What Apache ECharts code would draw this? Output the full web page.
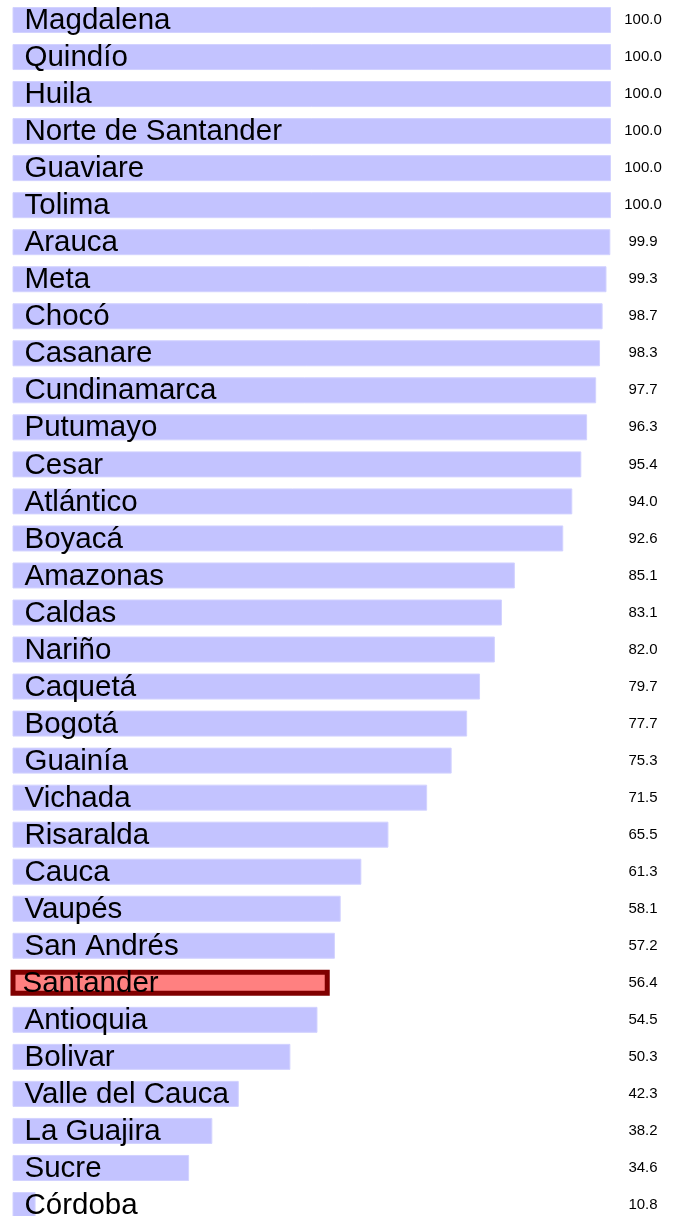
<!DOCTYPE html>
<html>
<head>
<meta charset="utf-8">
<script src="https://cdn.jsdelivr.net/npm/echarts@6/dist/echarts.min.js"></script>
<style>
html, body {margin: 0; padding: 0; background: #fff;}
#chart {width: 681px; height: 1216px;}
</style>
</head>
<body>
<div id="chart"></div>
<script>
const departments = [
    'Magdalena', 'Quindío', 'Huila', 'Norte de Santander', 'Guaviare', 'Tolima',
    'Arauca', 'Meta', 'Chocó', 'Casanare', 'Cundinamarca', 'Putumayo', 'Cesar',
    'Atlántico', 'Boyacá', 'Amazonas', 'Caldas', 'Nariño', 'Caquetá', 'Bogotá',
    'Guainía', 'Vichada', 'Risaralda', 'Cauca', 'Vaupés', 'San Andrés', 'Santander',
    'Antioquia', 'Bolivar', 'Valle del Cauca', 'La Guajira', 'Sucre', 'Córdoba'
]
const coverage = [
    100.0, 100.0, 100.0, 100.0, 100.0, 100.0,
    99.9, 99.3, 98.7, 98.3, 97.7, 96.3, 95.4,
    94.0, 92.6, 85.1, 83.1, 82.0, 79.7, 77.7,
    75.3, 71.5, 65.5, 61.3, 58.1, 57.2, 56.4,
    54.5, 50.3, 42.3, 38.2, 34.6, 10.8
]
const highlighted = 'Santander'

let myChart = echarts.init(document.getElementById('chart'), null, {renderer: 'canvas'})

let option = {
    animation: false,
    backgroundColor: '#fff',
    grid: {
        left: 13,
        right: 70,
        top: 1.5,
        bottom: -7.5,
        containLabel: false,
        outerBoundsMode: 'none',
    },
    xAxis: {
        type: 'value',
        min: 7.3,
        max: 100,
        show: false,
    },
    yAxis: [
        {
            type: 'category',
            data: departments,
            inverse: true,
            show: false,
        },
        {
            type: 'category',
            data: coverage.map((v) => v.toFixed(1)),
            inverse: true,
            position: 'right',
            axisLine: {show: false},
            axisTick: {show: false},
            axisLabel: {
                margin: 32,
                align: 'center',
                color: '#000',
                fontSize: 15,
                fontFamily: 'Liberation Sans',
            },
        },
    ],
    series: [
        {
            type: 'bar',
            yAxisIndex: 0,
            barWidth: 26,
            data: coverage.map((v, idx) => {
                let isHi = departments[idx] === highlighted
                return {
                    value: v,
                    itemStyle: isHi
                        ? {color: '#ff8080', borderColor: '#800000', borderWidth: 5}
                        : {color: '#c3c3ff', borderColor: '#d2d2ff', borderWidth: 1},
                }
            }),
            label: {
                show: true,
                position: 'insideLeft',
                distance: 12,
                offset: [0, 1],
                formatter: '{b}',
                color: '#000',
                fontSize: 29.5,
                fontFamily: 'Liberation Sans',
            },
        },
    ],
}

myChart.setOption(option)
</script>
</body>
</html>
